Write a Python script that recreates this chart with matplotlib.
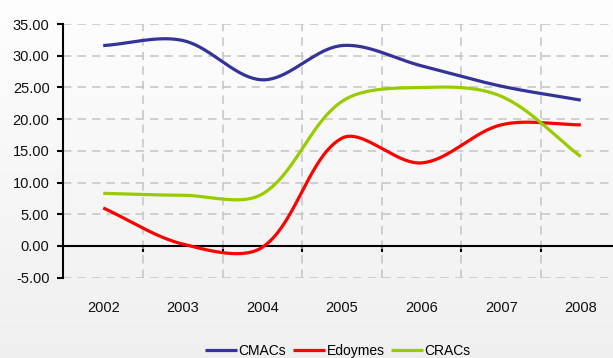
import numpy as np
import matplotlib
matplotlib.use("Agg")
import matplotlib.pyplot as plt

# data
years = ["2002", "2003", "2004", "2005", "2006", "2007", "2008"]
cmacs = [31.6, 32.4, 26.2, 31.6, 28.4, 25.2, 23.0]
edoymes = [6.0, 0.3, -0.2, 17.0, 13.1, 19.1, 19.1]
cracs = [8.3, 8.0, 8.2, 22.8, 25.0, 23.6, 14.1]

series = [
    ("CMACs", cmacs, "#333399"),
    ("Edoymes", edoymes, "#ff0000"),
    ("CRACs", cracs, "#99cc00"),
]

YMIN, YMAX = -5, 35


def smooth_line(x, y, sx, sy, n=40):
    """Excel-like smoothed line: cubic Bezier built in screen units."""
    px = np.asarray(x, float) * sx
    py = np.asarray(y, float) * sy
    out_x, out_y = [], []
    m = len(px)
    for i in range(m - 1):
        i0, i3 = max(i - 1, 0), min(i + 2, m - 1)
        p0 = np.array([px[i0], py[i0]])
        p1 = np.array([px[i], py[i]])
        p2 = np.array([px[i + 1], py[i + 1]])
        p3 = np.array([px[i3], py[i3]])
        d01 = np.hypot(*(p1 - p0))
        d12 = np.hypot(*(p2 - p1))
        d23 = np.hypot(*(p3 - p2))
        c1 = p1 + (p2 - p0) * d12 / (d01 + d12) / 3
        c2 = p2 - (p3 - p1) * d12 / (d12 + d23) / 3
        t = np.linspace(0, 1, n)[:, None]
        b = ((1 - t) ** 3 * p1 + 3 * (1 - t) ** 2 * t * c1
             + 3 * (1 - t) * t ** 2 * c2 + t ** 3 * p2)
        if i > 0:
            b = b[1:]
        out_x.append(b[:, 0])
        out_y.append(b[:, 1])
    return np.concatenate(out_x) / sx, np.concatenate(out_y) / sy


fig = plt.figure(figsize=(6.13, 3.58), dpi=100)

# light vertical gradient behind everything
bg = fig.add_axes([0, 0, 1, 1], zorder=-10)
grad = np.linspace(0.995, 0.94, 256)[:, None]
bg.imshow(np.dstack([grad, grad, grad]), aspect="auto", extent=[0, 1, 0, 1])
bg.axis("off")

W, H = 613, 358
left, right = 63.4, 620.6
top, bottom = 24.0, 277.7
ax = fig.add_axes([left / W, 1 - bottom / H, (right - left) / W, (bottom - top) / H])
ax.set_facecolor("none")

n = len(years)
xc = np.arange(n) + 0.5
ax.set_xlim(0, n)
ax.set_ylim(YMIN, YMAX)

sx = (right - left) / n
sy = (bottom - top) / (YMAX - YMIN)

for name, vals, col in series:
    lx, ly = smooth_line(xc, vals, sx, sy)
    ax.plot(lx, ly, color=col, lw=2.3, label=name, solid_capstyle="butt", zorder=3)

# grid
grid_kw = dict(color="#c4c4c4", lw=1.1, dashes=(5.5, 4.0))
yt = np.arange(YMIN, YMAX + 1, 5)
ax.set_yticks(yt)
ax.set_yticklabels([f"{v:.2f}" for v in yt])
ax.set_xticks(np.arange(0, n + 1))
ax.set_xticklabels([])
ax.set_xticks(xc, minor=True)
ax.set_xticklabels(years, minor=True)
ax.grid(True, which="major", **grid_kw)
for v, gl in zip(yt, ax.yaxis.get_gridlines()):
    if v == 0:
        gl.set_visible(False)

for s in ["top", "right", "bottom"]:
    ax.spines[s].set_visible(False)
ax.spines["left"].set_linewidth(1.5)
ax.tick_params(axis="y", direction="out", length=4, width=1.5, pad=6,
               labelsize=10.5, labelcolor="#111111")
ax.tick_params(axis="x", which="both", length=0, pad=17, labelsize=10.5,
               labelcolor="#111111")

# category axis drawn through zero
ax.axhline(0, color="black", lw=1.5, zorder=2.5)
zero = ax.secondary_xaxis((0 - YMIN) / (YMAX - YMIN))
zero.set_xticks(np.arange(1, n))
zero.set_xticklabels([])
zero.spines["bottom"].set_visible(False)
zero.tick_params(direction="out", length=4.5, width=1.5)

for t in ax.get_yticklabels() + ax.get_xticklabels(minor=True):
    t.set_fontfamily(["Liberation Sans", "DejaVu Sans"])

fig.legend(loc="center", bbox_to_anchor=(338 / W, 1 - 351 / H), ncol=3,
           frameon=False, handlelength=2.3, handletextpad=0.1,
           columnspacing=0.5, borderpad=0,
           prop={"family": ["Liberation Sans", "DejaVu Sans"], "size": 10})

fig.savefig("out.png", dpi=100)
